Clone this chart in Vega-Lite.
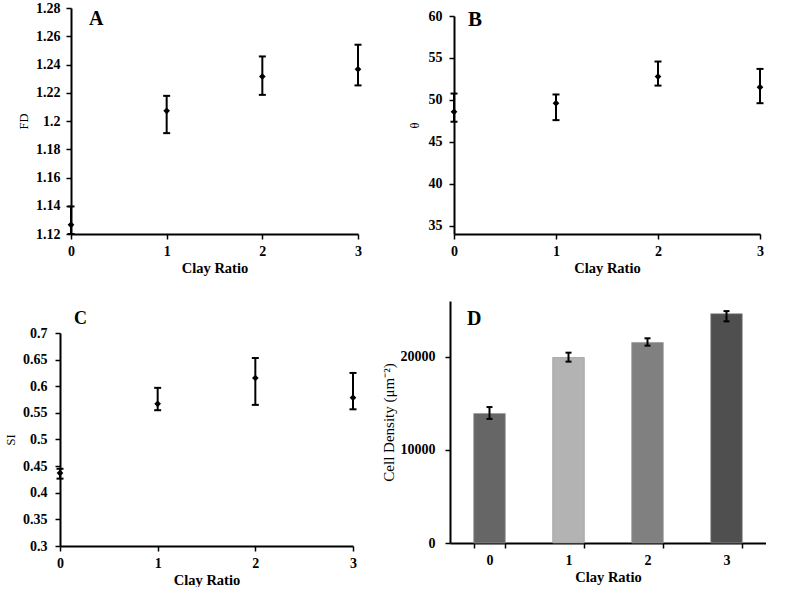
{
  "$schema": "https://vega.github.io/schema/vega-lite/v6.json",
  "background": "white",
  "padding": {"left": 0, "top": 1, "right": 0, "bottom": 0},
  "datasets": {
    "A": [
      {"clay": 0, "mean": 1.1265, "lo": 1.12, "hi": 1.1395},
      {"clay": 1, "mean": 1.2072, "lo": 1.1914, "hi": 1.2178},
      {"clay": 2, "mean": 1.2315, "lo": 1.2185, "hi": 1.2457},
      {"clay": 3, "mean": 1.2367, "lo": 1.2252, "hi": 1.254}
    ],
    "B": [
      {"clay": 0, "mean": 48.57, "lo": 47.39, "hi": 50.75},
      {"clay": 1, "mean": 49.6, "lo": 47.58, "hi": 50.64},
      {"clay": 2, "mean": 52.78, "lo": 51.7, "hi": 54.57},
      {"clay": 3, "mean": 51.51, "lo": 49.6, "hi": 53.69}
    ],
    "C": [
      {"clay": 0, "mean": 0.437, "lo": 0.4265, "hi": 0.445},
      {"clay": 1, "mean": 0.567, "lo": 0.555, "hi": 0.597},
      {"clay": 2, "mean": 0.6155, "lo": 0.565, "hi": 0.653},
      {"clay": 3, "mean": 0.5786, "lo": 0.5567, "hi": 0.625}
    ],
    "D": [
      {"clay": "0", "mean": 13917, "lo": 13333, "hi": 14605},
      {"clay": "1", "mean": 19931, "lo": 19485, "hi": 20447},
      {"clay": "2", "mean": 21546, "lo": 21203, "hi": 21993},
      {"clay": "3", "mean": 24639, "lo": 23814, "hi": 24914}
    ],
    "one": [{"k": 1}]
  },
  "config": {
    "view": {"stroke": null},
    "font": "Liberation Serif",
    "title": {"font": "Liberation Serif", "fontWeight": "bold", "color": "black", "anchor": "start", "frame": "group", "baseline": "top", "orient": "top"},
    "axis": {
      "grid": false,
      "domainColor": "black",
      "domainWidth": 2,
      "tickColor": "black",
      "tickWidth": 1.5,
      "tickSize": 5,
      "labelFont": "Liberation Serif",
      "labelFontWeight": "bold",
      "labelFontSize": 14,
      "labelColor": "black",
      "labelFlush": false,
      "labelOverlap": false,
      "titleFont": "Liberation Serif",
      "titleColor": "black"
    },
    "axisX": {"titleFontWeight": "bold", "titleFontSize": 14.5, "labelAngle": 0, "labelPadding": 5, "titlePadding": 3},
    "axisY": {"titleFontWeight": "normal", "titleFontSize": 12.5}
  },
  "hconcat": [
    {
      "vconcat": [
        {
          "hconcat": [
            {"width": 17, "height": 1, "data": {"name": "one"}, "mark": {"type": "point", "opacity": 0, "size": 0}, "encoding": {}},
            {
              "title": {"text": "A", "fontSize": 20, "dx": 18, "offset": -28.2},
              "width": 287, "height": 226,
              "data": {"name": "A"},
              "encoding": {
                "x": {"field": "clay", "type": "quantitative", "scale": {"domain": [0, 3]}, "axis": {"values": [0, 1, 2, 3], "format": "d"}, "title": "Clay Ratio"}
              },
              "layer": [
                {"mark": {"type": "rule", "strokeWidth": 2, "color": "black"},
                 "encoding": {"y": {"field": "lo", "type": "quantitative", "scale": {"domain": [1.12, 1.28]}, "axis": {"values": [1.12, 1.14, 1.16, 1.18, 1.2, 1.22, 1.24, 1.26, 1.28], "format": "~f", "labelPadding": 6, "titlePadding": 5, "labelOverlap": false}, "title": "FD"}, "y2": {"field": "hi"}}},
                {"mark": {"type": "tick", "orient": "horizontal", "size": 7, "thickness": 2, "color": "black", "opacity": 1},
                 "encoding": {"y": {"field": "lo", "type": "quantitative", "axis": {"values": [1.12, 1.14, 1.16, 1.18, 1.2, 1.22, 1.24, 1.26, 1.28], "format": "~f", "labelPadding": 6, "titlePadding": 5, "labelOverlap": false}, "title": "FD"}}},
                {"mark": {"type": "tick", "orient": "horizontal", "size": 7, "thickness": 2, "color": "black", "opacity": 1},
                 "encoding": {"y": {"field": "hi", "type": "quantitative", "axis": {"values": [1.12, 1.14, 1.16, 1.18, 1.2, 1.22, 1.24, 1.26, 1.28], "format": "~f", "labelPadding": 6, "titlePadding": 5, "labelOverlap": false}, "title": "FD"}}},
                {"mark": {"type": "point", "shape": "diamond", "filled": true, "size": 45, "color": "black", "opacity": 1},
                 "encoding": {"y": {"field": "mean", "type": "quantitative", "axis": {"values": [1.12, 1.14, 1.16, 1.18, 1.2, 1.22, 1.24, 1.26, 1.28], "format": "~f", "labelPadding": 6, "titlePadding": 5, "labelOverlap": false}, "title": "FD"}}}
              ]
            }
          ],
          "spacing": 0
        },
        {
          "hconcat": [
            {"width": 4, "height": 1, "data": {"name": "one"}, "mark": {"type": "point", "opacity": 0, "size": 0}, "encoding": {}},
            {
              "title": {"text": "C", "fontSize": 18, "dx": 14, "offset": -1.5},
              "width": 293, "height": 213,
              "data": {"name": "C"},
              "encoding": {
                "x": {"field": "clay", "type": "quantitative", "scale": {"domain": [0, 3]}, "axis": {"values": [0, 1, 2, 3], "format": "d"}, "title": "Clay Ratio"}
              },
              "layer": [
                {"mark": {"type": "rule", "strokeWidth": 2, "color": "black"},
                 "encoding": {"y": {"field": "lo", "type": "quantitative", "scale": {"domain": [0.3, 0.7]}, "axis": {"values": [0.3, 0.35, 0.4, 0.45, 0.5, 0.55, 0.6, 0.65, 0.7], "format": "~f", "labelPadding": 8, "titlePadding": 5, "labelOverlap": false}, "title": "SI"}, "y2": {"field": "hi"}}},
                {"mark": {"type": "tick", "orient": "horizontal", "size": 7, "thickness": 2, "color": "black", "opacity": 1},
                 "encoding": {"y": {"field": "lo", "type": "quantitative", "axis": {"values": [0.3, 0.35, 0.4, 0.45, 0.5, 0.55, 0.6, 0.65, 0.7], "format": "~f", "labelPadding": 8, "titlePadding": 5, "labelOverlap": false}, "title": "SI"}}},
                {"mark": {"type": "tick", "orient": "horizontal", "size": 7, "thickness": 2, "color": "black", "opacity": 1},
                 "encoding": {"y": {"field": "hi", "type": "quantitative", "axis": {"values": [0.3, 0.35, 0.4, 0.45, 0.5, 0.55, 0.6, 0.65, 0.7], "format": "~f", "labelPadding": 8, "titlePadding": 5, "labelOverlap": false}, "title": "SI"}}},
                {"mark": {"type": "point", "shape": "diamond", "filled": true, "size": 45, "color": "black", "opacity": 1},
                 "encoding": {"y": {"field": "mean", "type": "quantitative", "axis": {"values": [0.3, 0.35, 0.4, 0.45, 0.5, 0.55, 0.6, 0.65, 0.7], "format": "~f", "labelPadding": 8, "titlePadding": 5, "labelOverlap": false}, "title": "SI"}}}
              ]
            }
          ],
          "spacing": 0
        }
      ],
      "spacing": 34
    },
    {
      "vconcat": [
        {
          "vconcat": [
            {"width": 1, "height": 1, "data": {"name": "one"}, "mark": {"type": "point", "opacity": 0, "size": 0}, "encoding": {}},
            {
              "hconcat": [
                {"width": 46, "height": 1, "data": {"name": "one"}, "mark": {"type": "point", "opacity": 0, "size": 0}, "encoding": {}},
                {
                  "title": {"text": "B", "fontSize": 21, "dx": 14, "offset": -21},
                  "width": 306, "height": 218,
                  "data": {"name": "B"},
                  "encoding": {
                    "x": {"field": "clay", "type": "quantitative", "scale": {"domain": [0, 3]}, "axis": {"values": [0, 1, 2, 3], "format": "d"}, "title": "Clay Ratio"}
                  },
                  "layer": [
                    {"mark": {"type": "rule", "strokeWidth": 2, "color": "black"},
                     "encoding": {"y": {"field": "lo", "type": "quantitative", "scale": {"domain": [35, 60]}, "axis": {"values": [35, 40, 45, 50, 55, 60], "format": "d", "labelPadding": 7, "titlePadding": 7, "labelOverlap": false}, "title": "θ"}, "y2": {"field": "hi"}}},
                    {"mark": {"type": "tick", "orient": "horizontal", "size": 7, "thickness": 2, "color": "black", "opacity": 1},
                     "encoding": {"y": {"field": "lo", "type": "quantitative", "axis": {"values": [35, 40, 45, 50, 55, 60], "format": "d", "labelPadding": 7, "titlePadding": 7, "labelOverlap": false}, "title": "θ"}}},
                    {"mark": {"type": "tick", "orient": "horizontal", "size": 7, "thickness": 2, "color": "black", "opacity": 1},
                     "encoding": {"y": {"field": "hi", "type": "quantitative", "axis": {"values": [35, 40, 45, 50, 55, 60], "format": "d", "labelPadding": 7, "titlePadding": 7, "labelOverlap": false}, "title": "θ"}}},
                    {"mark": {"type": "point", "shape": "diamond", "filled": true, "size": 45, "color": "black", "opacity": 1},
                     "encoding": {"y": {"field": "mean", "type": "quantitative", "axis": {"values": [35, 40, 45, 50, 55, 60], "format": "d", "labelPadding": 7, "titlePadding": 7, "labelOverlap": false}, "title": "θ"}}}
                  ]
                }
              ],
              "spacing": 0
            }
          ],
          "spacing": 0
        },
        {
          "hconcat": [
            {"width": 19, "height": 1, "data": {"name": "one"}, "mark": {"type": "point", "opacity": 0, "size": 0}, "encoding": {}},
            {
              "title": {"text": "D", "fontSize": 20, "dx": 17, "offset": -28},
              "width": 316, "height": 242,
              "data": {"name": "D"},
              "encoding": {
                "x": {"field": "clay", "type": "nominal", "scale": {"paddingInner": 0.6, "paddingOuter": 0.3}, "axis": {"tickBand": "extent", "labelPadding": 5}, "title": "Clay Ratio"}
              },
              "layer": [
                {"mark": {"type": "bar", "stroke": "#9a9a9a", "strokeWidth": 0.7},
                 "encoding": {
                   "y": {"field": "mean", "type": "quantitative", "scale": {"domain": [0, 25000]}, "axis": {"values": [0, 10000, 20000], "format": "d", "labelPadding": 10, "titlePadding": 4, "titleFontSize": 15, "labelOverlap": false}, "title": "Cell Density (μm⁻²)"},
                   "color": {"field": "clay", "type": "nominal", "scale": {"domain": ["0", "1", "2", "3"], "range": ["#666666", "#b3b3b3", "#808080", "#4f4f4f"]}, "legend": null}
                 }},
                {"mark": {"type": "rule", "strokeWidth": 2, "color": "black"},
                 "encoding": {"y": {"field": "lo", "type": "quantitative", "axis": {"values": [0, 10000, 20000], "format": "d", "labelPadding": 10, "titlePadding": 4, "titleFontSize": 15, "labelOverlap": false}, "title": "Cell Density (μm⁻²)"}, "y2": {"field": "hi"}}},
                {"mark": {"type": "tick", "orient": "horizontal", "size": 6, "thickness": 2, "color": "black", "opacity": 1},
                 "encoding": {"y": {"field": "lo", "type": "quantitative", "axis": {"values": [0, 10000, 20000], "format": "d", "labelPadding": 10, "titlePadding": 4, "titleFontSize": 15, "labelOverlap": false}, "title": "Cell Density (μm⁻²)"}}},
                {"mark": {"type": "tick", "orient": "horizontal", "size": 6, "thickness": 2, "color": "black", "opacity": 1},
                 "encoding": {"y": {"field": "hi", "type": "quantitative", "axis": {"values": [0, 10000, 20000], "format": "d", "labelPadding": 10, "titlePadding": 4, "titleFontSize": 15, "labelOverlap": false}, "title": "Cell Density (μm⁻²)"}}}
              ]
            }
          ],
          "spacing": 0
        }
      ],
      "spacing": 26
    }
  ],
  "spacing": 0
}
